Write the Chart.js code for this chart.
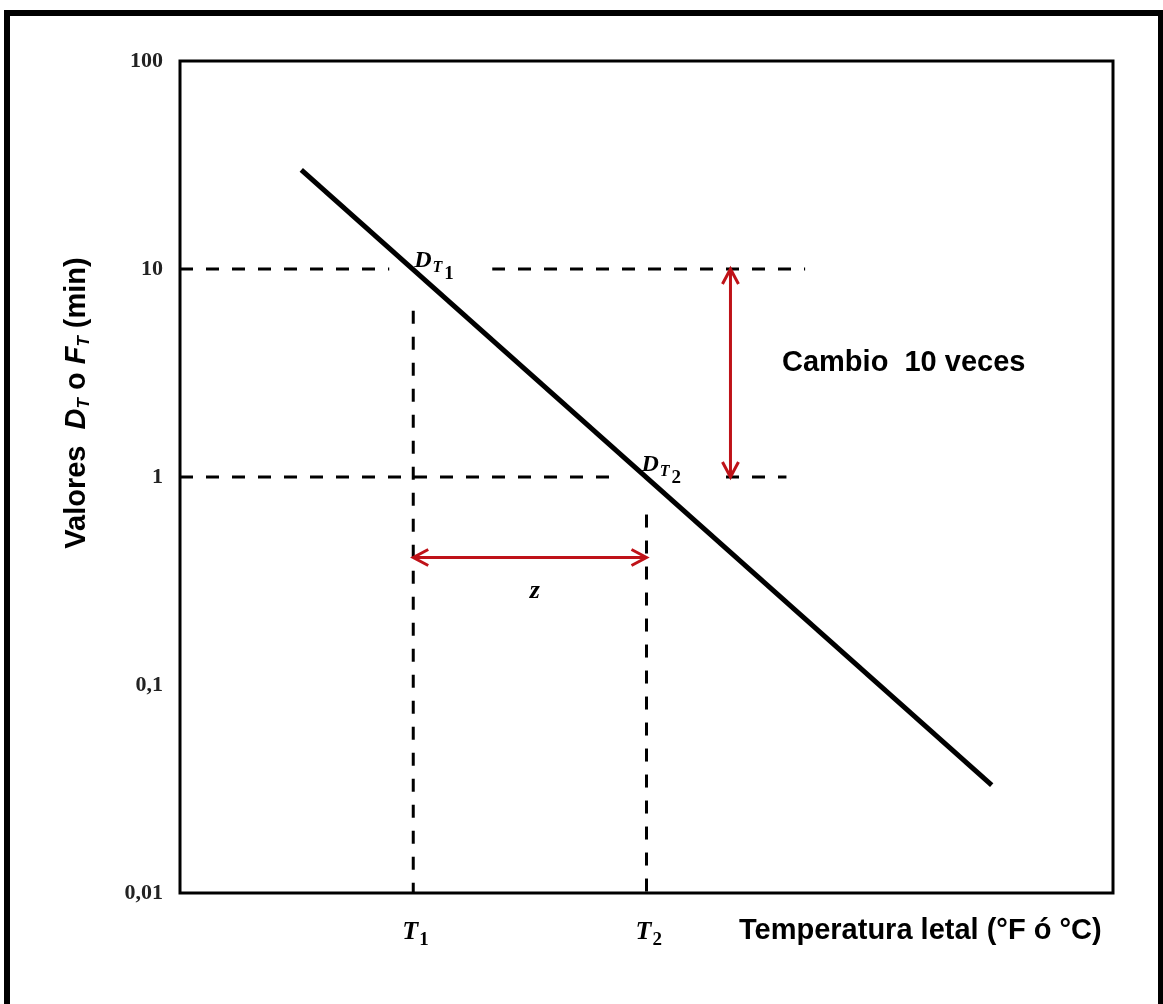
<!DOCTYPE html>
<html>
<head>
<meta charset="utf-8">
<script src="https://cdn.jsdelivr.net/npm/chart.js@4/dist/chart.umd.min.js"></script>
<style>
  html, body { margin: 0; padding: 0; background: #fff; }
  canvas { display: block; }
</style>
</head>
<body>
<canvas id="chart" width="1163" height="1004"></canvas>
<script>
// DATA
const yTicks = [0.01, 0.1, 1, 10, 100];
const tempMarks = [25, 50]; // T1, T2 on the temperature axis
const lineX = [13, 87];
const lineY = [30, 0.033];
const d1Line = { x: [0, 67], y: [10, 10] };
const d2Line = { x: [0, 65], y: [1, 1] };
const t1Line = { x: [25, 25], y: [6.3, 0.01] };
const t2Line = { x: [50, 50], y: [0.66, 0.01] };
const zArrow = { x: [25, 50], y: [0.41, 0.41] };
const tenArrow = { x: [59, 59], y: [10, 1] };

const RED = "#bf1218";
const ctx = document.getElementById("chart");

function pts(xs, ys) {
  return xs.map((x, i) => ({ x: x, y: ys[i] }));
}

function dashed(obj) {
  return {
    data: pts(obj.x, obj.y),
    showLine: true,
    borderColor: "#000",
    borderWidth: 3,
    borderDash: [13, 13],
    pointRadius: 0,
  };
}

//* draws a row of text pieces, each with its own font and baseline shift
function drawRich(c, parts, x, y) {
  let cx = x;
  parts.forEach((p) => {
    c.font = p.font;
    c.fillText(p.t, cx, y + (p.dy || 0));
    cx += c.measureText(p.t).width + (p.gap || 0);
  });
  return cx - x;
}

function richWidth(c, parts) {
  let w = 0;
  parts.forEach((p) => {
    c.font = p.font;
    w += c.measureText(p.t).width + (p.gap || 0);
  });
  return w;
}

function arrowHead(c, x, y, angle) {
  const len = 15, half = 8;
  c.save();
  c.translate(x, y);
  c.rotate(angle);
  c.beginPath();
  c.moveTo(-len, -half);
  c.lineTo(0, 0);
  c.lineTo(-len, half);
  c.stroke();
  c.restore();
}

const serif = "'Liberation Serif', serif";
const sans = "'Liberation Sans', Arial, sans-serif";

function dLabel(c, px, py, n) {
  drawRich(c, [
    { t: "D", font: "bold italic 24px " + serif, gap: 1 },
    { t: "T", font: "bold italic 16px " + serif, dy: 5, gap: 2 },
    { t: n, font: "bold 19px " + serif, dy: 12 },
  ], px, py);
}

const decoPlugin = {
  id: "deco",
  beforeDraw(chart) {
    const c = chart.ctx;
    c.save();
    c.fillStyle = "#fff";
    c.fillRect(0, 0, chart.width, chart.height);
    // outer frame
    c.strokeStyle = "#000";
    c.lineWidth = 6;
    c.strokeRect(7, 13, 1154, 1010);
    c.restore();
  },
  // white label boxes sit over the dashed lines but under the main line
  beforeDatasetDraw(chart, args) {
    if (args.index !== 0) return;
    const c = chart.ctx;
    const xs = chart.scales.x;
    const ys = chart.scales.y;
    const p1x = xs.getPixelForValue(tempMarks[0]);
    const p1y = ys.getPixelForValue(10);
    const p2x = xs.getPixelForValue(tempMarks[1]);
    const p2y = ys.getPixelForValue(1);
    c.save();
    c.fillStyle = "#fff";
    c.fillRect(p1x - 24, p1y - 24, 103, 50);
    c.fillRect(p2x - 28, p2y - 24, 98, 50);
    c.fillStyle = "#000";
    c.textAlign = "left";
    c.textBaseline = "alphabetic";
    dLabel(c, p1x + 1, p1y - 2, "1");
    dLabel(c, p2x - 5, p2y - 6, "2");
    c.restore();
  },
  afterDatasetsDraw(chart) {
    const c = chart.ctx;
    const xs = chart.scales.x;
    const ys = chart.scales.y;
    const area = chart.chartArea;
    c.save();

    // plot frame
    c.strokeStyle = "#000";
    c.lineWidth = 3;
    c.strokeRect(area.left, area.top, area.right - area.left, area.bottom - area.top);

    // red arrow heads
    c.strokeStyle = RED;
    c.lineWidth = 3;
    const zl = xs.getPixelForValue(zArrow.x[0]);
    const zr = xs.getPixelForValue(zArrow.x[1]);
    const zy = ys.getPixelForValue(zArrow.y[0]);
    arrowHead(c, zl, zy, Math.PI);
    arrowHead(c, zr, zy, 0);
    const vx = xs.getPixelForValue(tenArrow.x[0]);
    const vt = ys.getPixelForValue(tenArrow.y[0]);
    const vb = ys.getPixelForValue(tenArrow.y[1]);
    arrowHead(c, vx, vt, -Math.PI / 2);
    arrowHead(c, vx, vb, Math.PI / 2);

    c.fillStyle = "#000";
    c.textBaseline = "alphabetic";

    // z label
    c.font = "bold italic 26px " + serif;
    c.textAlign = "center";
    c.fillText("z", (zl + zr) / 2 + 5, zy + 40);

    // Cambio 10 veces
    c.textAlign = "left";
    c.textBaseline = "middle";
    c.font = "bold 29px " + sans;
    c.fillText("Cambio  10 veces", 782, 363);

    // temperature axis labels
    c.textBaseline = "alphabetic";
    tempMarks.forEach((m, i) => {
      const px = xs.getPixelForValue(m);
      drawRich(c, [
        { t: "T", font: "bold italic 26px " + serif, gap: 1 },
        { t: String(i + 1), font: "bold 19px " + serif, dy: 6 },
      ], px - 11, area.bottom + 46);
    });
    c.textBaseline = "middle";
    c.font = "bold 29px " + sans;
    c.fillText("Temperatura letal (°F ó °C)", 739, area.bottom + 38);

    // y axis title
    const title = [
      { t: "Valores  ", font: "bold 29px " + sans },
      { t: "D", font: "bold italic 29px " + sans },
      { t: "T", font: "bold italic 17px " + sans, dy: 7 },
      { t: " o ", font: "bold 29px " + sans },
      { t: "F", font: "bold italic 29px " + sans },
      { t: "T", font: "bold italic 17px " + sans, dy: 7 },
      { t: " (min)", font: "bold 29px " + sans },
    ];
    c.translate(77, 403);
    c.rotate(-Math.PI / 2);
    c.textBaseline = "middle";
    drawRich(c, title, -richWidth(c, title) / 2, 0);
    c.restore();
  },
};

const myChart = new Chart(ctx, {
  type: "scatter",
  data: {
    datasets: [
      {
        data: pts(lineX, lineY),
        showLine: true,
        borderColor: "#000",
        borderWidth: 5,
        pointRadius: 0,
      },
      dashed(d1Line),
      dashed(d2Line),
      dashed(t1Line),
      dashed(t2Line),
      {
        data: pts(zArrow.x, zArrow.y),
        showLine: true,
        borderColor: RED,
        borderWidth: 3,
        pointRadius: 0,
      },
      {
        data: pts(tenArrow.x, tenArrow.y),
        showLine: true,
        borderColor: RED,
        borderWidth: 3,
        pointRadius: 0,
      },
    ],
  },
  options: {
    responsive: false,
    animation: false,
    layout: { padding: { top: 61, right: 50, left: 0, bottom: 0 } },
    plugins: {
      legend: { display: false },
      tooltip: { enabled: false },
    },
    scales: {
      x: {
        type: "linear",
        min: 0,
        max: 100,
        grid: { display: false },
        border: { display: false },
        ticks: { display: false },
        afterFit: (scale) => { scale.height = 111; },
      },
      y: {
        type: "logarithmic",
        min: 0.01,
        max: 100,
        grid: { display: false, drawTicks: false },
        border: { display: false },
        afterBuildTicks: (scale) => {
          scale.ticks = yTicks.map((v) => ({ value: v }));
        },
        ticks: {
          padding: 17,
          color: "#222",
          font: { family: "Liberation Serif", size: 22, weight: "bold" },
          callback: (v) => String(v).replace(".", ","),
        },
        afterFit: (scale) => { scale.width = 180; },
      },
    },
  },
  plugins: [decoPlugin],
});
</script>
</body>
</html>
